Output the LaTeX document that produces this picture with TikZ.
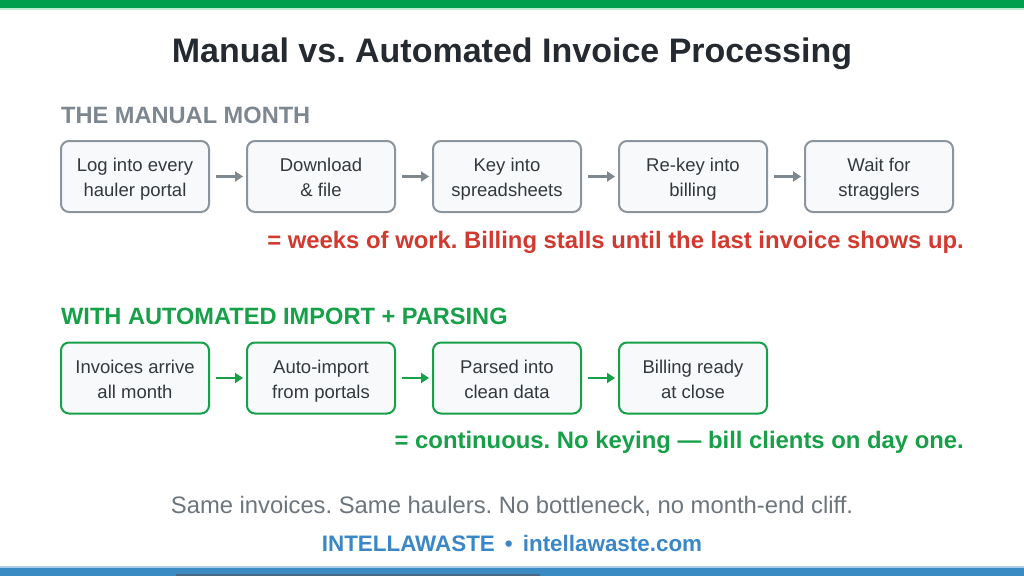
\documentclass[tikz,border=0pt]{standalone}
\usepackage{fontspec}
\setmainfont{Liberation Sans}
\frenchspacing
\usetikzlibrary{arrows.meta}
\definecolor{topgreen}{HTML}{009F4D}
\definecolor{lightgreen}{HTML}{BDEBD0}
\definecolor{botblue}{HTML}{3A8AC4}
\definecolor{lightblue}{HTML}{A9CBE6}
\definecolor{darkseg}{HTML}{4A6784}
\definecolor{titlecol}{HTML}{252A30}
\definecolor{headgray}{HTML}{7D8791}
\definecolor{boxgray}{HTML}{8C949C}
\definecolor{boxfill}{HTML}{F8F9FB}
\definecolor{textdark}{HTML}{33383D}
\definecolor{arrgray}{HTML}{7F878F}
\definecolor{green2}{HTML}{16A048}
\definecolor{redtxt}{HTML}{D23A30}
\definecolor{footgray}{HTML}{6C757D}
\definecolor{brandblue}{HTML}{3A87C8}
\tikzset{
  stepbox/.style={draw=boxgray, line width=2pt, fill=boxfill, rounded corners=8pt,
    minimum width=148pt, minimum height=71pt, align=center, font=\fontsize{18.5}{25}\selectfont,
    text=textdark, inner sep=0pt},
  autobox/.style={stepbox, draw=green2},
  grayarrow/.style={draw=arrgray, line width=2.8pt, -{Triangle[length=8pt,width=10pt]}},
  greenarrow/.style={draw=green2, line width=2.8pt, -{Triangle[length=8pt,width=10pt]}},
}
\newcommand{\twolines}[2]{\raisebox{-2.5pt}[\height][\depth]{\begin{tabular}{@{}c@{}}#1\\#2\end{tabular}}}
\begin{document}
\begin{tikzpicture}[x=1pt,y=-1pt]
\useasboundingbox (0,0) rectangle (1024,576);
\fill[white] (0,0) rectangle (1024,576);
% top bar
\fill[topgreen] (0,0) rectangle (1024,8);
\fill[lightgreen] (0,8) rectangle (1024,9.5);
% bottom bar
\fill[lightblue] (0,566) rectangle (1024,567.5);
\fill[botblue] (0,567.5) rectangle (1024,576);
\fill[darkseg] (176,574) rectangle (540,576);
% title
\node[font=\fontsize{34}{38}\selectfont\bfseries, text=titlecol] (title) at (512,54) {Manual vs. Automated Invoice Processing};
% manual section
\node[anchor=west, font=\fontsize{23.6}{27}\selectfont\bfseries, text=headgray, inner sep=0pt] (h1) at (61,115) {THE MANUAL MONTH};
\node[stepbox] (m1) at (135,176.5) {\twolines{Log into every}{hauler portal}};
\node[stepbox] (m2) at (321,176.5) {\twolines{Download}{\& file}};
\node[stepbox] (m3) at (507,176.5) {\twolines{Key into}{spreadsheets}};
\node[stepbox] (m4) at (693,176.5) {\twolines{Re-key into}{billing}};
\node[stepbox] (m5) at (879,176.5) {\twolines{Wait for}{stragglers}};
\draw[grayarrow] ([xshift=6pt]m1.east) -- ([xshift=-3pt]m2.west);
\draw[grayarrow] ([xshift=6pt]m2.east) -- ([xshift=-3pt]m3.west);
\draw[grayarrow] ([xshift=6pt]m3.east) -- ([xshift=-3pt]m4.west);
\draw[grayarrow] ([xshift=6pt]m4.east) -- ([xshift=-3pt]m5.west);
\node[anchor=east, font=\fontsize{23.85}{27}\selectfont\bfseries, text=redtxt, inner sep=0pt] (r1) at (964,242) {= weeks of work. Billing stalls until the last invoice shows up.};
% automated section
\node[anchor=west, font=\fontsize{23.6}{27}\selectfont\bfseries, text=green2, inner sep=0pt] (h2) at (61,316) {WITH AUTOMATED IMPORT + PARSING};
\node[autobox] (a1) at (135,378) {\twolines{Invoices arrive}{all month}};
\node[autobox] (a2) at (321,378) {\twolines{Auto-import}{from portals}};
\node[autobox] (a3) at (507,378) {\twolines{Parsed into}{clean data}};
\node[autobox] (a4) at (693,378) {\twolines{Billing ready}{at close}};
\draw[greenarrow] ([xshift=6pt]a1.east) -- ([xshift=-3pt]a2.west);
\draw[greenarrow] ([xshift=6pt]a2.east) -- ([xshift=-3pt]a3.west);
\draw[greenarrow] ([xshift=6pt]a3.east) -- ([xshift=-3pt]a4.west);
\node[anchor=east, font=\fontsize{23.85}{27}\selectfont\bfseries, text=green2, inner sep=0pt] (r2) at (964,442) {= continuous. No keying — bill clients on day one.};
% footer
\node[font=\fontsize{23.8}{27}\selectfont, text=footgray] (f1) at (512,506) {Same invoices. Same haulers. No bottleneck, no month-end cliff.};
\node[font=\fontsize{22.4}{26}\selectfont\bfseries, text=brandblue] (f2) at (512,543) {INTELLAWASTE\hspace{0.45em}•\hspace{0.45em}intellawaste.com};
\end{tikzpicture}
\end{document}
